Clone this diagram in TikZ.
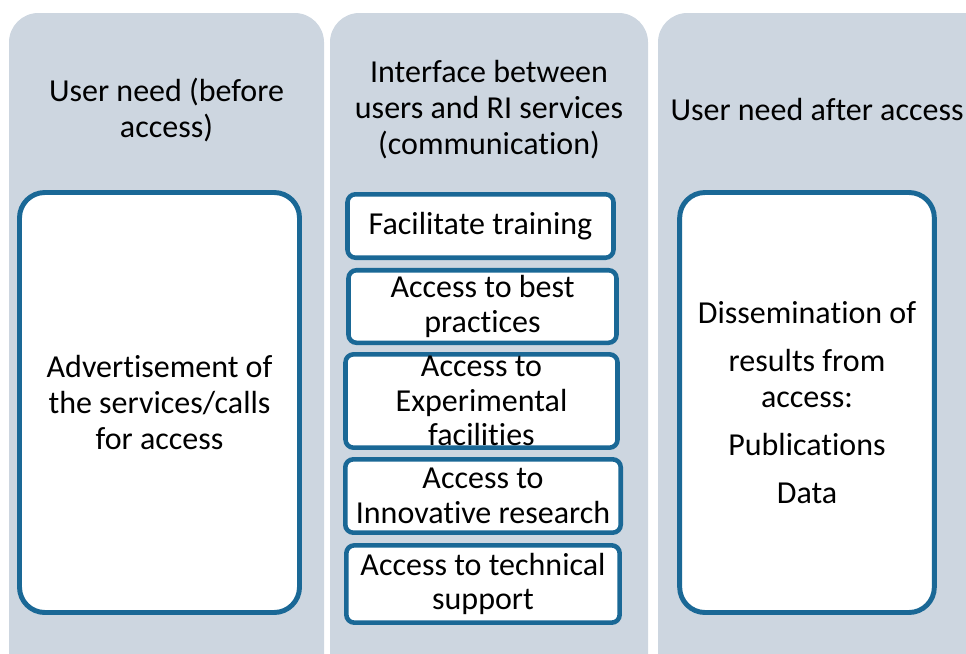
\documentclass[tikz,border=0pt]{standalone}
\usepackage{fontspec}
\setmainfont[Ligatures=NoCommon]{Carlito}
\definecolor{panelc}{RGB}{205,214,224}
\definecolor{borderc}{RGB}{26,104,150}
\begin{document}
\begin{tikzpicture}[x=0.75pt,y=-0.75pt,
  panel/.style={fill=panelc},
  title/.style={align=center,font=\fontsize{24}{27}\selectfont,inner sep=0pt},
  bigbox/.style={draw=borderc,fill=white,line width=3.7pt,rounded corners=19pt,align=center,font=\fontsize{24}{27}\selectfont,inner sep=0pt},
  smallbox/.style={draw=borderc,fill=white,line width=3.4pt,rounded corners=6pt,align=center,font=\fontsize{24}{26}\selectfont,inner sep=0pt}]
\useasboundingbox (0,0) rectangle (966,653);
\clip (0,0) rectangle (966,653);
% panels
\fill[panel,rounded corners=22pt] (9,13) rectangle (324,700);
\fill[panel,rounded corners=22pt] (330,13) rectangle (648,700);
\fill[panel,rounded corners=22pt] (658,13) rectangle (1010,700);
% titles
\node[title] (t1) at (166.5,110) {User need (before\\access)};
\node[title] (t2) at (489,110) {Interface between\\users and RI services\\(communication)};
\node[title] (t3) at (817,110) {User need after access};
% big boxes
\node[bigbox,minimum width=210pt,minimum height=315pt] (adv) at (159.5,402.5)
  {Advertisement of\\the services/calls\\for access};
\node[bigbox,minimum width=191pt,minimum height=315pt] (diss) at (807,402.5)
  {Dissemination of\\[9pt]results from\\access:\\[9pt]Publications\\[9pt]Data};
% middle boxes
\node[smallbox,minimum width=199.5pt,minimum height=47.6pt] (b1) at (480.5,226) {Facilitate training};
\node[smallbox,minimum width=201pt,minimum height=54.4pt] (b2) at (482.5,306.5) {Access to best\\practices};
\node[smallbox,minimum width=204pt,minimum height=70pt] (b3) at (481.5,401) {Access to\\Experimental\\facilities};
\node[smallbox,minimum width=206.6pt,minimum height=55pt] (b4) at (483,496) {Access to\\Innovative research};
\node[smallbox,minimum width=205pt,minimum height=58pt] (b5) at (483,584) {Access to technical\\support};
\end{tikzpicture}
\end{document}
